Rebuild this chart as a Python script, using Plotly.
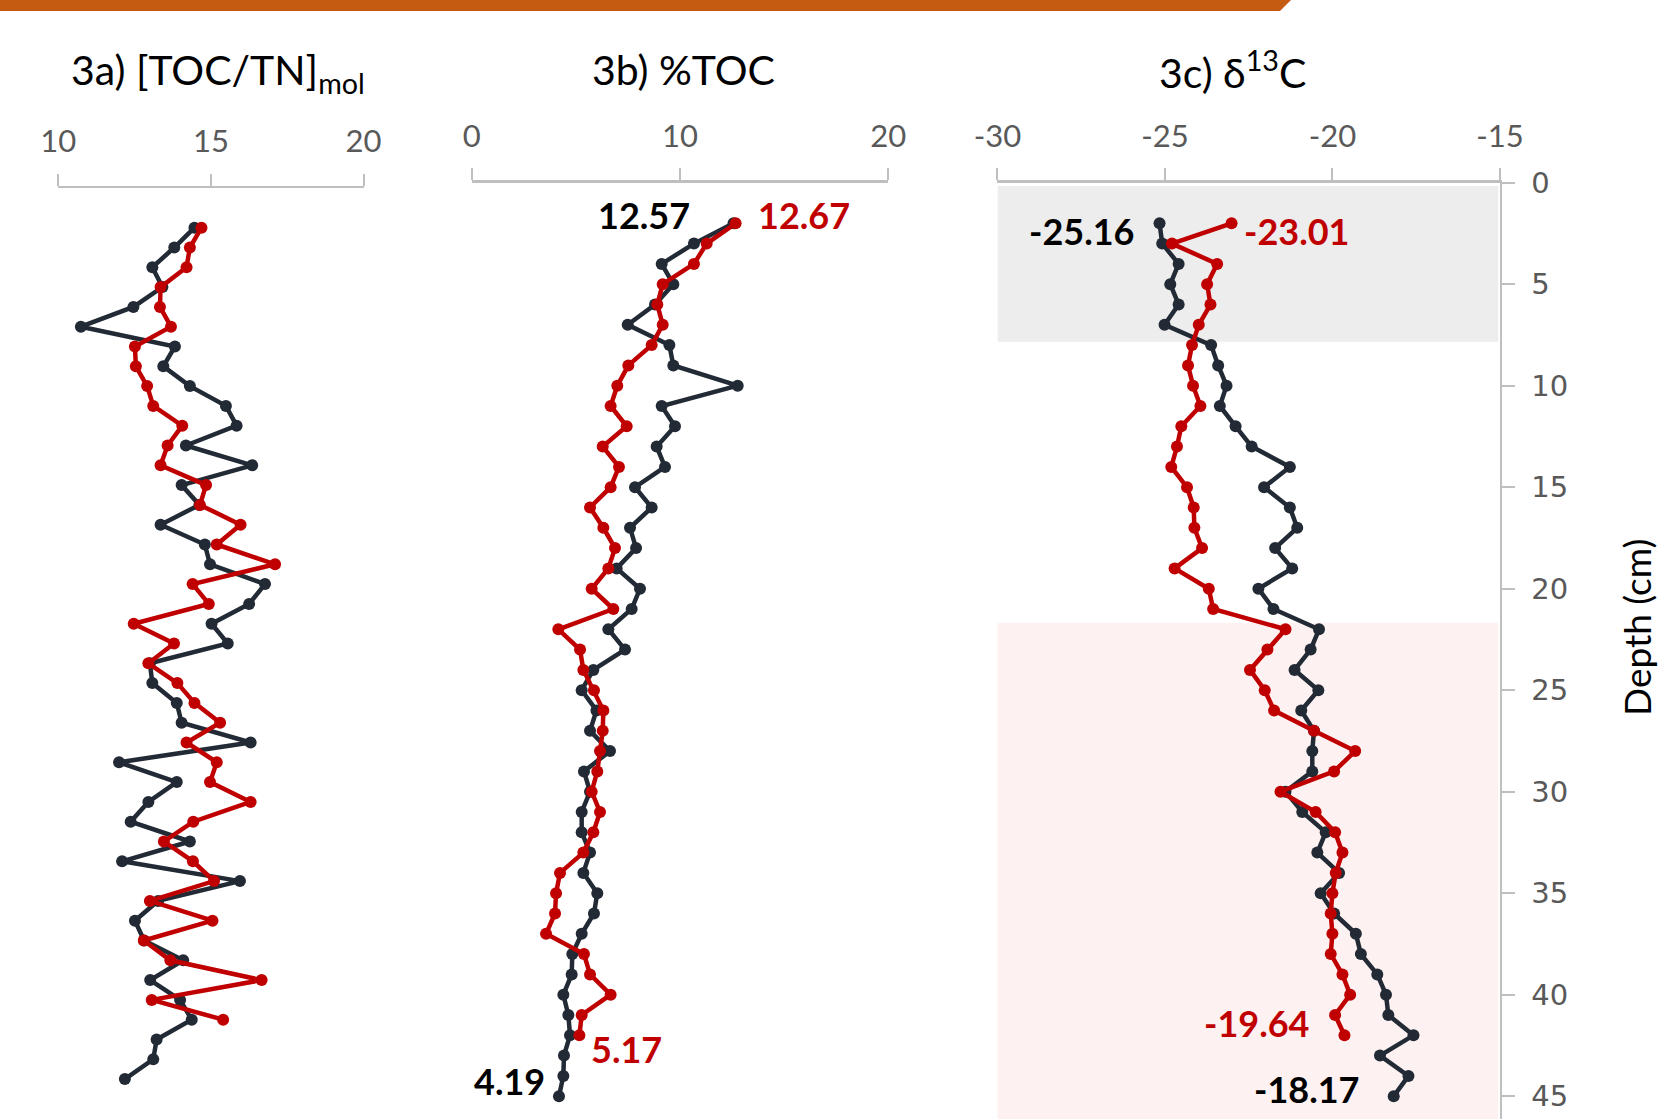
import plotly.graph_objects as go

# ---------------- data ----------------
depth_black = list(range(2, 46))   # 2..45 cm
depth_red = list(range(2, 43))     # 2..42 cm

tocn_black = [14.46, 13.80, 13.08, 13.41, 12.46, 10.74, 13.82, 13.44, 14.31, 15.49,
              15.84, 14.18, 16.35, 14.04, 14.62, 13.35, 14.80, 14.97, 16.77, 16.25,
              15.02, 15.55, 13.00, 13.08, 13.88, 14.04, 16.30, 11.99, 13.88, 12.95,
              12.37, 14.31, 12.09, 15.95, 13.27, 12.51, 12.81, 14.09, 13.01, 13.99,
              14.37, 13.22, 13.11, 12.18]
tocn_red = [14.69, 14.31, 14.20, 13.35, 13.33, 13.69, 12.51, 12.54, 12.91, 13.11,
            14.06, 13.58, 13.35, 14.84, 14.64, 15.97, 15.19, 17.10, 14.40, 14.93,
            12.47, 13.79, 12.95, 13.90, 14.46, 15.30, 14.20, 15.19, 14.97, 16.30,
            14.42, 13.46, 14.41, 15.10, 13.00, 15.05, 12.80, 13.67, 16.66, 13.06,
            15.40]

toc_black = [12.57, 10.67, 9.12, 9.68, 8.80, 7.49, 9.49, 9.68, 12.77, 9.12,
             9.76, 8.88, 9.28, 7.84, 8.64, 7.60, 7.89, 6.96, 8.08, 7.68,
             6.56, 7.36, 5.84, 5.28, 5.99, 5.68, 6.64, 5.39, 5.68, 5.28,
             5.28, 5.68, 5.36, 6.03, 5.87, 5.28, 4.83, 4.80, 4.40, 4.64,
             4.72, 4.43, 4.40, 4.19]
toc_red = [12.67, 11.28, 10.67, 9.17, 8.91, 9.17, 8.64, 7.52, 6.99, 6.67,
           7.44, 6.29, 7.07, 6.67, 5.68, 6.32, 6.88, 6.56, 5.76, 6.80,
           4.16, 5.20, 5.36, 5.87, 6.32, 6.29, 6.16, 6.03, 5.76, 6.16,
           5.84, 5.36, 4.24, 4.05, 4.00, 3.57, 5.39, 5.68, 6.67, 5.28,
           5.17]

d13c_black = [-25.16, -25.08, -24.59, -24.84, -24.59, -25.01, -23.62, -23.41, -23.16, -23.36,
              -22.89, -22.41, -21.27, -22.04, -21.27, -21.05, -21.71, -21.20, -22.21, -21.76,
              -20.40, -20.65, -21.13, -20.42, -20.93, -20.55, -20.60, -20.60, -21.40, -20.90,
              -20.20, -20.45, -19.80, -20.35, -19.95, -19.30, -19.15, -18.66, -18.40, -18.33,
              -17.58, -18.58, -17.73, -18.17]
d13c_red = [-23.01, -24.79, -23.44, -23.74, -23.64, -23.99, -24.19, -24.31, -24.16, -23.94,
            -24.51, -24.64, -24.81, -24.34, -24.14, -24.12, -23.89, -24.71, -23.69, -23.56,
            -21.40, -21.94, -22.46, -22.02, -21.74, -20.55, -19.32, -19.95, -21.55, -20.50,
            -19.92, -19.70, -19.90, -20.00, -20.05, -20.00, -20.05, -19.70, -19.47, -19.92,
            -19.64]

ticks_a = [10, 15, 20]
ticks_b = [0, 10, 20]
ticks_c = [-30, -25, -20, -15]
ticks_depth = [0, 5, 10, 15, 20, 25, 30, 35, 40, 45]

titles = ["3a) [TOC/TN]<sub>mol</sub>", "3b) %TOC", "3c) δ<sup>13</sup>C"]
depth_title = "Depth (cm)"

# ---------------- style ----------------
W, H = 1662, 1119
BLACK = "#222A35"
RED = "#C00000"
AXIS = "#BFBFBF"
TICKTXT = "#595959"
FONT = "Lato"

fig = go.Figure()

def add_pair(xb, xr, xa, ya):
    fig.add_trace(go.Scatter(x=xb, y=depth_black, mode="lines+markers",
                             line=dict(color=BLACK, width=4.5),
                             marker=dict(color=BLACK, size=12),
                             xaxis=xa, yaxis=ya, cliponaxis=False, hoverinfo="skip"))
    fig.add_trace(go.Scatter(x=xr, y=depth_red, mode="lines+markers",
                             line=dict(color=RED, width=4.5),
                             marker=dict(color=RED, size=12),
                             xaxis=xa, yaxis=ya, cliponaxis=False, hoverinfo="skip"))

add_pair(tocn_black, tocn_red, "x", "y")
add_pair(toc_black, toc_red, "x2", "y2")
add_pair(d13c_black, d13c_red, "x3", "y3")

def px(x):
    return x / W

def py(y):
    return 1 - y / H

def fmt(v):
    return str(v).replace("\u2212", "-")

xcommon = dict(side="top", showgrid=False, zeroline=False, showline=True,
               linecolor=AXIS, linewidth=2.5, ticks="outside", ticklen=12,
               tickcolor=AXIS, tickwidth=2, automargin=False,
               tickfont=dict(family=FONT, size=31, color=TICKTXT),
               ticklabelstandoff=9, fixedrange=True)

fig.update_layout(
    width=W, height=H,
    margin=dict(l=0, r=0, t=0, b=0, pad=0, autoexpand=False),
    paper_bgcolor="white", plot_bgcolor="rgba(0,0,0,0)",
    showlegend=False,
    xaxis=dict(domain=[px(58.3), px(363.6)], range=[10, 20], tickvals=ticks_a,
               ticktext=[fmt(v) for v in ticks_a], anchor="y", **xcommon),
    yaxis=dict(domain=[0, py(188.1)], range=[(H - 188.1) / 19.8, 0],
               visible=False, anchor="x"),
    xaxis2=dict(domain=[px(471.7), px(888.3)], range=[0, 20], tickvals=ticks_b,
                ticktext=[fmt(v) for v in ticks_b], anchor="y2", **xcommon),
    yaxis2=dict(domain=[0, py(182.7)], range=[(H - 182.7) / 20.3, 0],
                visible=False, anchor="x2"),
    xaxis3=dict(domain=[px(997.4), px(1499.9)], range=[-30, -15], tickvals=ticks_c,
                ticktext=[fmt(v) for v in ticks_c], anchor="y3", **xcommon),
    yaxis3=dict(domain=[0, py(182.7)], range=[(H - 182.7) / 20.3, 0],
                side="right", anchor="x3", tickvals=ticks_depth,
                ticktext=[fmt(v) for v in ticks_depth], automargin=False,
                showgrid=False, zeroline=False, showline=True, linecolor=AXIS,
                linewidth=2.5, ticks="outside", ticklen=13, tickcolor=AXIS, tickwidth=2,
                tickfont=dict(family="DejaVu Sans", size=29, color=TICKTXT),
                ticklabelstandoff=10, fixedrange=True),
)

# shaded bands in panel c
fig.add_shape(type="rect", xref="x3", yref="y3", x0=-30, x1=-15.05, y0=0.16, y1=7.83,
              fillcolor="#EDEDED", line=dict(width=0), layer="below")
fig.add_shape(type="rect", xref="x3", yref="y3", x0=-30, x1=-15.05, y0=21.68, y1=46.2,
              fillcolor="#FEF1F1", line=dict(width=0), layer="below")

# orange banner at the top
fig.add_shape(type="path", xref="paper", yref="paper",
              path=f"M 0 {py(0)} L {px(1291)} {py(0)} L {px(1280)} {py(11)} L 0 {py(11)} Z",
              fillcolor="#C55A11", line=dict(width=0))

# panel titles
title_pos = [(69, 72), (590, 70), (1157, 70)]
for t, (x, y) in zip(titles, title_pos):
    fig.add_annotation(text=t, xref="paper", yref="paper", x=px(x), y=py(y),
                       xanchor="left", yanchor="middle", showarrow=False,
                       font=dict(family=FONT, size=41, color="black"))

fig.add_annotation(text=depth_title, xref="paper", yref="paper", x=px(1636), y=py(628),
                   xanchor="center", yanchor="middle", textangle=-90, showarrow=False,
                   font=dict(family=FONT, size=37, color="black"))

# value labels
labels = [
    ("x2", "y2", toc_black[0], depth_black[0], BLACK, "right", -42, 8),
    ("x2", "y2", toc_red[0], depth_red[0], RED, "left", 20, 8),
    ("x2", "y2", toc_red[-1], depth_red[-1], RED, "left", 10, -14),
    ("x2", "y2", toc_black[-1], depth_black[-1], BLACK, "right", -12, 15),
    ("x3", "y3", d13c_black[0], depth_black[0], BLACK, "right", -23, -8),
    ("x3", "y3", d13c_red[0], depth_red[0], RED, "left", 10, -8),
    ("x3", "y3", d13c_red[-1], depth_red[-1], RED, "right", -32, 12),
    ("x3", "y3", d13c_black[-1], depth_black[-1], BLACK, "right", -32, 7),
]
for xa, ya, xv, yv, col, anc, dx, dy in labels:
    fig.add_annotation(text=f"<b>{xv:.2f}</b>", xref=xa, yref=ya, x=xv, y=yv,
                       xanchor=anc, yanchor="middle", xshift=dx, yshift=dy,
                       showarrow=False,
                       font=dict(family=FONT, size=36, color="black" if col == BLACK else RED))

fig.write_html("out.html",
               config={"displayModeBar": False, "staticPlot": True},
               post_script="document.body.style.margin='0';document.body.style.padding='0';"
                           "document.documentElement.style.overflow='hidden';")
